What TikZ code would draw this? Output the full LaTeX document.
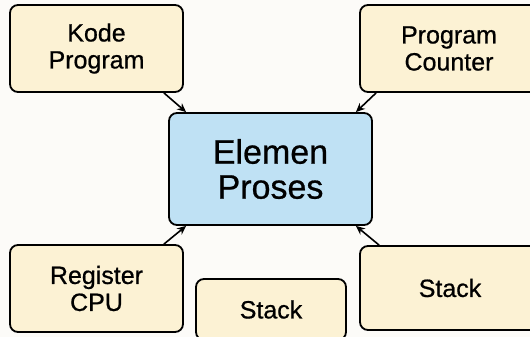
\documentclass[tikz,border=0pt]{standalone}
\usepackage{fontspec}
\setmainfont{Liberation Sans}[FakeBold=0.7]
\usetikzlibrary{arrows.meta,calc}
\definecolor{pagebg}{HTML}{FCFBF8}
\definecolor{cream}{HTML}{FCF2D4}
\definecolor{skyfill}{HTML}{BFE1F4}
\begin{document}
\begin{tikzpicture}[x=1pt,y=-1pt,
  box/.style={draw=black, line width=1.8pt, rounded corners=8pt, fill=cream,
    align=center, inner sep=0pt, font=\fontsize{25}{27}\selectfont},
  mainbox/.style={box, fill=skyfill, font=\fontsize{34}{35}\selectfont},
  link/.style={draw=black, line width=1.6pt, -{Stealth[length=9pt,width=8pt]}}]
\useasboundingbox (0,0) rectangle (530,337);
\clip (0,0) rectangle (530,337);
\fill[pagebg] (0,0) rectangle (530,337);

% central element
\node[mainbox, minimum width=203pt, minimum height=112pt] (elem) at (270.5,169) {Elemen\\Proses};

% surrounding components
\node[box, minimum width=173pt, minimum height=87pt] (kode) at (96.5,48.5) {Kode\\Program};
\node[box, minimum width=178pt, minimum height=87pt] (pc) at (449,48.5) {Program\\Counter};
\node[box, minimum width=173pt, minimum height=87pt] (reg) at (96.5,288.5) {Register\\CPU};
\node[box, minimum width=150pt, minimum height=61pt] (stkmid) at (271,309.5) {Stack};
\node[box, minimum width=180pt, minimum height=84pt] (stkright) at (450,288) {Stack};

% connectors into the central element
\draw[link] ($(kode.south east)+(-20,0)$) -- ($(elem.north west)+(18,0)$);
\draw[link] ($(pc.south west)+(17,0)$) -- ($(elem.north east)+(-17,0)$);
\draw[link] ($(reg.north east)+(-20,0)$) -- ($(elem.south west)+(18,0)$);
\draw[link] ($(stkright.north west)+(20,0)$) -- ($(elem.south east)+(-17,0)$);
\end{tikzpicture}
\end{document}
